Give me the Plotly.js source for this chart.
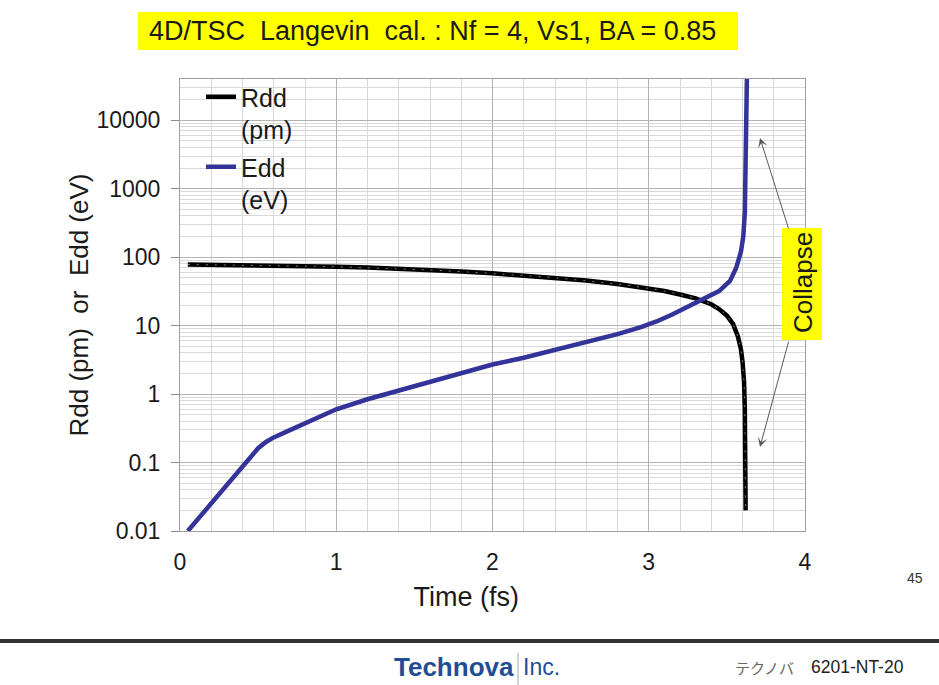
<!DOCTYPE html>
<html>
<head>
<meta charset="utf-8">
<script src="https://cdn.plot.ly/plotly-3.0.1.min.js"></script>
<style>
  html, body { margin: 0; padding: 0; background: #ffffff; }
  #chart { width: 939px; height: 685px; }
</style>
</head>
<body>
<div id="chart"></div>
<script>
// ---- Data ----
const rddTime = [0.05, 0.2, 0.4, 0.6, 0.8, 1.0, 1.2, 1.4, 1.6, 1.8, 2.0, 2.2, 2.4, 2.6, 2.8, 3.0, 3.1, 3.2, 3.3, 3.4, 3.45, 3.5, 3.54, 3.57, 3.59, 3.60, 3.61, 3.615, 3.618, 3.62];
const rddValues = [78, 77.5, 76.5, 75.5, 74, 72.5, 70.5, 68, 65, 61.5, 58, 54, 50, 45.5, 40.5, 35, 32, 28.5, 25, 20.5, 17.5, 14, 10.5, 7, 4.5, 3, 1.5, 0.6, 0.15, 0.02];

const eddTime = [0.05, 0.15, 0.25, 0.35, 0.45, 0.5, 0.55, 0.6, 0.7, 0.8, 1.0, 1.2, 1.4, 1.6, 1.8, 2.0, 2.2, 2.4, 2.6, 2.8, 2.95, 3.05, 3.15, 3.25, 3.35, 3.45, 3.52, 3.56, 3.59, 3.605, 3.615, 3.62, 3.625, 3.628];
const eddValues = [0.01, 0.0186, 0.035, 0.065, 0.12, 0.162, 0.2, 0.233, 0.295, 0.375, 0.6, 0.84, 1.12, 1.5, 2.0, 2.7, 3.4, 4.4, 5.7, 7.5, 9.5, 11.5, 14.5, 19, 25, 32, 45, 70, 120, 200, 450, 1500, 10000, 40000];

const seriesNames = ["Rdd<br>(pm)", "Edd<br>(eV)"];
const xTickVals = [0, 1, 2, 3, 4];
const xTickText = ["0", "1", "2", "3", "4"];
const yTickVals = [0.01, 0.1, 1, 10, 100, 1000, 10000];
const yTickText = ["0.01", "0.1", "1", "10", "100", "1000", "10000"];

const chartTitle = "4D/TSC\u00a0\u00a0Langevin\u00a0\u00a0cal.\u00a0: Nf = 4, Vs1, BA = 0.85";
const xTitle = "Time (fs)\u00a0\u00a0\u00a0\u00a0\u00a0\u00a0\u00a0\u200b";
const yTitle = "Rdd (pm)\u00a0\u00a0or\u00a0\u00a0Edd (eV)";
const collapseLabel = "Collapse";

const FONT = "Liberation Sans, Arial, Helvetica, sans-serif";

const traces = [
  {
    x: rddTime, y: rddValues, name: seriesNames[0], type: "scatter", mode: "lines",
    line: { color: "#000000", width: 4.5 }, legendgroup: "a"
  },
  {
    x: rddTime, y: rddValues, name: "", type: "scatter", mode: "lines",
    line: { color: "rgba(255,255,255,0.5)", width: 1, dash: "2px,7px" },
    showlegend: false, hoverinfo: "skip", legendgroup: "a"
  },
  {
    x: eddTime, y: eddValues, name: seriesNames[1], type: "scatter", mode: "lines",
    line: { color: "#333399", width: 4.5 }, legendgroup: "b"
  }
];

// paper coords helpers for plot area l=180, r=805, t=79, b=531
const px = v => (v - 180) / 625;
const py = v => (531 - v) / 452;

const layout = {
  width: 939, height: 685,
  margin: { l: 180, r: 134, t: 79, b: 154 },
  paper_bgcolor: "#ffffff",
  plot_bgcolor: "#ffffff",
  font: { family: FONT, color: "#1a1a1a", size: 22 },
  showlegend: true,
  legend: {
    x: px(201), y: py(74), xanchor: "left", yanchor: "top",
    bgcolor: "rgba(0,0,0,0)", borderwidth: 0,
    font: { family: FONT, size: 25, color: "#1a1a1a" },
    valign: "top", tracegroupgap: 2, itemwidth: 30
  },
  xaxis: {
    range: [0, 4],
    tickmode: "array", tickvals: xTickVals, ticktext: xTickText,
    ticks: "", ticklabelstandoff: 10,
    showgrid: true, gridcolor: "#b3b3b3", gridwidth: 1,
    minor: { dtick: 0.2, showgrid: true, gridcolor: "#d9d9d9", gridwidth: 1 },
    showline: true, linecolor: "#a0a0a0", linewidth: 1, mirror: true,
    zeroline: false,
    tickfont: { family: FONT, size: 23, color: "#1a1a1a" },
    title: { text: xTitle, font: { family: FONT, size: 27, color: "#1a1a1a" }, standoff: 13 }
  },
  yaxis: {
    type: "log",
    range: [-2, Math.log10(40000)],
    tickmode: "array", tickvals: yTickVals, ticktext: yTickText,
    ticks: "outside", ticklen: 8, tickcolor: "#8c8c8c", tickwidth: 1,
    ticklabelstandoff: 6,
    showgrid: true, gridcolor: "#b3b3b3", gridwidth: 1,
    minor: { dtick: "D1", showgrid: true, gridcolor: "#d9d9d9", gridwidth: 1, ticks: "" },
    showline: true, linecolor: "#a0a0a0", linewidth: 1, mirror: true,
    zeroline: false,
    tickfont: { family: FONT, size: 23, color: "#1a1a1a" },
    title: { text: yTitle, font: { family: FONT, size: 26, color: "#1a1a1a" }, standoff: 0 }
  },
  shapes: [
    // title highlight
    { type: "rect", xref: "paper", yref: "paper", x0: px(138), x1: px(738), y0: py(50), y1: py(12),
      fillcolor: "#ffff00", line: { width: 0 }, layer: "below" },
    // collapse highlight
    { type: "rect", xref: "paper", yref: "paper", x0: px(782), x1: px(822), y0: py(340), y1: py(228),
      fillcolor: "#ffff00", line: { width: 0 }, layer: "above" },
    // footer rule
    { type: "line", xref: "paper", yref: "paper", x0: px(0), x1: px(939), y0: py(641), y1: py(641),
      line: { color: "#333333", width: 4 } },
    // logo separator
    { type: "line", xref: "paper", yref: "paper", x0: px(518), x1: px(518), y0: py(653), y1: py(685),
      line: { color: "#9aa7bf", width: 1 } }
  ],
  annotations: [
    { xref: "paper", yref: "paper", x: px(147), y: py(31), xanchor: "left", yanchor: "middle",
      text: chartTitle, showarrow: false, font: { family: FONT, size: 27, color: "#1a1a1a" } },
    { xref: "paper", yref: "paper", x: px(803), y: py(283), xanchor: "center", yanchor: "middle",
      text: collapseLabel, textangle: -90, showarrow: false, font: { family: FONT, size: 26, color: "#1a1a1a" } },
    { xref: "paper", yref: "paper", x: px(760), y: py(138), text: "", showarrow: true,
      ax: 29, ay: 92, arrowhead: 3, arrowsize: 1.6, arrowwidth: 1, arrowcolor: "#595959" },
    { xref: "paper", yref: "paper", x: px(760), y: py(447), text: "", showarrow: true,
      ax: 29, ay: -107, arrowhead: 3, arrowsize: 1.6, arrowwidth: 1, arrowcolor: "#595959" },
    { xref: "paper", yref: "paper", x: px(915), y: py(578), xanchor: "center", yanchor: "middle",
      text: "45", showarrow: false, font: { family: FONT, size: 14, color: "#333333" } },
    { xref: "paper", yref: "paper", x: px(516), y: py(667), xanchor: "right", yanchor: "middle",
      text: "<b>Technova</b>", showarrow: false, font: { family: FONT, size: 26, color: "#1f4e96" } },
    { xref: "paper", yref: "paper", x: px(521), y: py(667), xanchor: "left", yanchor: "middle",
      text: "Inc.", showarrow: false, font: { family: FONT, size: 23, color: "#1f4e96" } },
    { xref: "paper", yref: "paper", x: px(733), y: py(667), xanchor: "left", yanchor: "middle",
      text: "テクノバ", showarrow: false, font: { family: "Noto Sans CJK JP, sans-serif", size: 15, color: "#666666" } },
    { xref: "paper", yref: "paper", x: px(809), y: py(667), xanchor: "left", yanchor: "middle",
      text: "6201-NT-20", showarrow: false, font: { family: FONT, size: 17.5, color: "#222222" } }
  ]
};

Plotly.newPlot("chart", traces, layout, { displayModeBar: false, staticPlot: true });
</script>
</body>
</html>
